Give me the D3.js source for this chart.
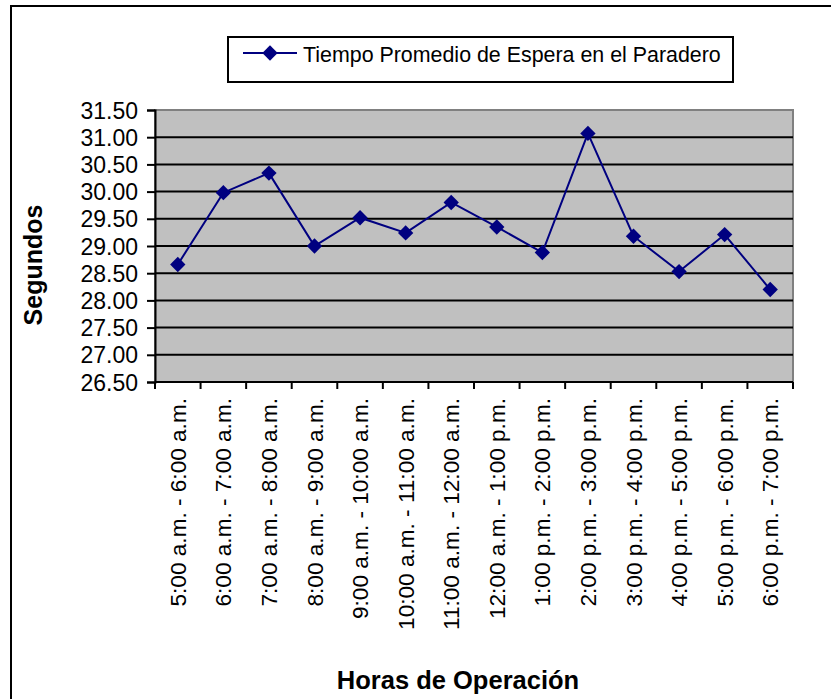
<!DOCTYPE html>
<html>
<head>
<meta charset="utf-8">
<script src="https://cdn.jsdelivr.net/npm/d3@7"></script>
<style>
  body { margin: 0; background: #fff; }
  svg text { font-family: Arial, "Liberation Sans", sans-serif; fill: #000; }
</style>
</head>
<body>
<div id="chart"></div>
<script>
// Chart data
const categories = [
    '5:00 a.m. - 6:00 a.m.', '6:00 a.m. - 7:00 a.m.', '7:00 a.m. - 8:00 a.m.',
    '8:00 a.m. - 9:00 a.m.', '9:00 a.m. - 10:00 a.m.', '10:00 a.m. - 11:00 a.m.',
    '11:00 a.m. - 12:00 a.m.', '12:00 a.m. - 1:00 p.m.', '1:00 p.m. - 2:00 p.m.',
    '2:00 p.m. - 3:00 p.m.', '3:00 p.m. - 4:00 p.m.', '4:00 p.m. - 5:00 p.m.',
    '5:00 p.m. - 6:00 p.m.', '6:00 p.m. - 7:00 p.m.'
];
const esperaValues = [28.66, 29.98, 30.34, 29.00, 29.52, 29.24, 29.80,
                      29.35, 28.88, 31.07, 29.18, 28.53, 29.21, 28.20];
const yTicks = [26.5, 27, 27.5, 28, 28.5, 29, 29.5, 30, 30.5, 31, 31.5];
const seriesName = 'Tiempo Promedio de Espera en el Paradero';

const width = 831, height = 699;
const margin = { top: 110, right: 38, bottom: 317, left: 155 };
const chartWidth = width - margin.left - margin.right;
const chartHeight = height - margin.top - margin.bottom;

const svg = d3.select('#chart').append('svg')
    .attr('width', width)
    .attr('height', height);

// Outer chart frame
svg.append('rect')
    .attr('x', 11).attr('y', 6)
    .attr('width', width).attr('height', height)
    .style('fill', 'none')
    .style('stroke', '#000')
    .style('stroke-width', 2);

const x = d3.scaleBand()
    .domain(categories)
    .range([0, chartWidth])
    .padding(0);

const y = d3.scaleLinear()
    .domain([26.5, 31.5])
    .range([chartHeight, 0]);

const g = svg.append('g')
    .attr('transform', `translate(${margin.left}, ${margin.top})`);

// Plot background
g.append('rect')
    .attr('width', chartWidth)
    .attr('height', chartHeight)
    .style('fill', '#c0c0c0')
    .style('stroke', '#808080')
    .style('stroke-width', 2);

// Grid lines
g.append('g')
    .selectAll('line')
    .data(yTicks.filter(t => t > 26.5 && t < 31.5))
    .enter().append('line')
    .attr('x1', 0).attr('x2', chartWidth)
    .attr('y1', d => y(d)).attr('y2', d => y(d))
    .style('stroke', '#000')
    .style('stroke-width', 2);

// Y axis
const yAxis = g.append('g')
    .call(d3.axisLeft(y).tickValues(yTicks).tickSize(8).tickPadding(9)
        .tickFormat(d3.format('.2f')));
yAxis.select('.domain').style('stroke', '#000').style('stroke-width', 2);
yAxis.selectAll('.tick line').style('stroke', '#000').style('stroke-width', 2);
yAxis.selectAll('text').style('font-size', '23px').attr('dy', '0.35em');

// X axis: ticks on band boundaries
const xAxis = g.append('g')
    .attr('transform', `translate(0, ${chartHeight})`);
xAxis.append('line')
    .attr('x1', 0).attr('x2', chartWidth)
    .style('stroke', '#000').style('stroke-width', 2);
xAxis.selectAll('line.tick')
    .data(categories.concat(['__end']))
    .enter().append('line')
    .attr('class', 'tick')
    .attr('x1', (d, i) => i * x.step()).attr('x2', (d, i) => i * x.step())
    .attr('y1', 0).attr('y2', 7)
    .style('stroke', '#000').style('stroke-width', 2);
xAxis.selectAll('text')
    .data(categories)
    .enter().append('text')
    .attr('transform', d => `translate(${x(d) + x.bandwidth() / 2 + 8}, 16) rotate(-90)`)
    .attr('text-anchor', 'end')
    .style('font-size', '22.6px')
    .text(d => d);

// Line
const line = d3.line()
    .x((d, i) => x(categories[i]) + x.bandwidth() / 2)
    .y(d => y(d));

g.append('path')
    .datum(esperaValues)
    .attr('d', line)
    .style('fill', 'none')
    .style('stroke', '#000080')
    .style('stroke-width', 2);

const diamond = d3.symbol().type(d3.symbolDiamond2).size(150);
g.selectAll('path.marker')
    .data(esperaValues)
    .enter().append('path')
    .attr('class', 'marker')
    .attr('transform', (d, i) => `translate(${x(categories[i]) + x.bandwidth() / 2}, ${y(d)})`)
    .attr('d', diamond)
    .style('fill', '#000080');

// Axis titles
svg.append('text')
    .attr('transform', `translate(42, 265) rotate(-90)`)
    .attr('text-anchor', 'middle')
    .style('font-size', '25px')
    .style('font-weight', 'bold')
    .text('Segundos');

svg.append('text')
    .attr('x', 458)
    .attr('y', 689)
    .attr('text-anchor', 'middle')
    .style('font-size', '25.5px')
    .style('font-weight', 'bold')
    .text('Horas de Operación');

// Legend
const legend = svg.append('g');
legend.append('rect')
    .attr('x', 228).attr('y', 37)
    .attr('width', 505).attr('height', 45)
    .style('fill', '#fff')
    .style('stroke', '#000')
    .style('stroke-width', 2);
legend.append('line')
    .attr('x1', 243).attr('x2', 297)
    .attr('y1', 53).attr('y2', 53)
    .style('stroke', '#000080')
    .style('stroke-width', 2);
legend.append('path')
    .attr('transform', 'translate(270, 53)')
    .attr('d', diamond)
    .style('fill', '#000080');
legend.append('text')
    .attr('x', 303).attr('y', 62)
    .style('font-size', '21.4px')
    .text(seriesName);
</script>
</body>
</html>
